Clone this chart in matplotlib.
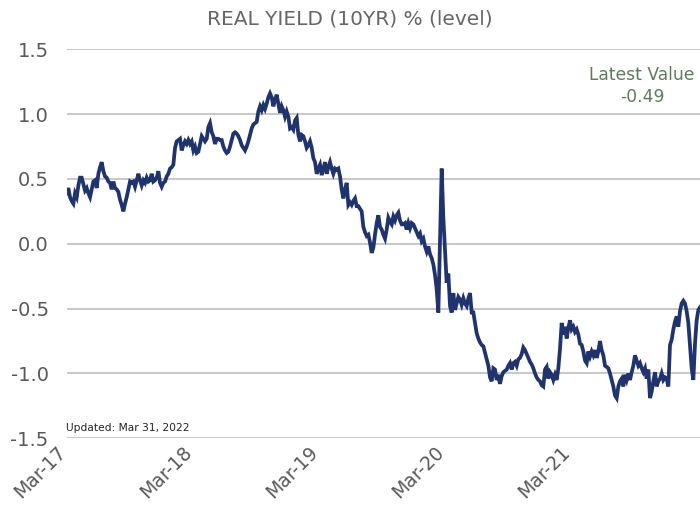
import numpy as np
import pandas as pd
import matplotlib
matplotlib.use("Agg")
import matplotlib.pyplot as plt

plt.rcParams["axes.unicode_minus"] = False
plt.rcParams["font.family"] = "DejaVu Sans"

# ---------------------------------------------------------------
#  Real yield 10yr (~ every 5 days)
# ---------------------------------------------------------------
ry_2017 = [0.39, 0.43, 0.36, 0.33, 0.31, 0.39, 0.36, 0.45, 0.51, 0.51,
           0.46, 0.41, 0.43, 0.39, 0.36, 0.42, 0.48, 0.49, 0.43, 0.54,
           0.59, 0.63, 0.56, 0.52, 0.51, 0.48, 0.47, 0.42, 0.48, 0.43,
           0.42, 0.40, 0.34, 0.30, 0.25, 0.31, 0.36, 0.42, 0.48, 0.47,
           0.48, 0.44, 0.49, 0.54, 0.49, 0.45, 0.49, 0.47, 0.51, 0.48,
           0.49, 0.54, 0.48, 0.49, 0.51, 0.56, 0.47, 0.44, 0.47, 0.48,
           0.52, 0.54, 0.58, 0.59, 0.61, 0.74, 0.79, 0.80, 0.81, 0.72,
           0.76, 0.79, 0.77, 0.80, 0.77, 0.79, 0.72, 0.75, 0.70, 0.71,
           0.77, 0.83, 0.81, 0.79, 0.81, 0.90, 0.93, 0.86, 0.83, 0.77,
           0.81, 0.81, 0.80, 0.80, 0.75, 0.72]
ry_2018 = [0.70, 0.71, 0.75, 0.80, 0.85, 0.86, 0.85, 0.83, 0.80, 0.76,
           0.74, 0.72, 0.75, 0.79, 0.84, 0.89, 0.92, 0.93, 0.94, 1.02,
           1.06, 1.03, 1.07, 1.04, 1.08, 1.13, 1.16, 1.13, 1.06, 1.11,
           1.15, 1.08, 1.01, 1.06, 1.03, 0.98, 1.02, 0.98, 0.89, 0.90,
           0.88, 0.95, 0.97, 0.84, 0.79, 0.84, 0.83, 0.79, 0.74, 0.76,
           0.79, 0.74, 0.66, 0.63, 0.54, 0.58, 0.61, 0.53, 0.58, 0.63,
           0.54, 0.59, 0.63, 0.58, 0.54, 0.58, 0.57, 0.58, 0.52, 0.42,
           0.35, 0.42, 0.47, 0.30, 0.32, 0.30, 0.33, 0.35, 0.29, 0.29,
           0.27, 0.25, 0.13, 0.09, 0.06, 0.07, 0.01, -0.07, -0.03, 0.07,
           0.16, 0.22]
ry_2019 = [0.13, 0.11, 0.07, 0.04, 0.11, 0.20, 0.17, 0.15, 0.21, 0.18,
           0.22, 0.24, 0.18, 0.15, 0.15, 0.16, 0.11, 0.16, 0.12, 0.16,
           0.15, 0.12, 0.09, 0.06, 0.08, 0.02, 0.04, -0.02, -0.06, -0.02,
           -0.08, -0.11, -0.16, -0.24, -0.35, -0.53, 0.03, 0.58, 0.20, -0.05,
           -0.30, -0.23, -0.48, -0.53, -0.38, -0.51, -0.46, -0.41, -0.43, -0.47,
           -0.42, -0.46, -0.48, -0.42, -0.38, -0.53, -0.53, -0.61, -0.69, -0.73,
           -0.76, -0.78, -0.79, -0.84, -0.89, -0.94, -1.03, -1.06, -0.96, -0.97,
           -1.05, -1.01, -1.08, -1.02, -0.99, -0.98, -0.97, -0.94, -0.92, -0.97,
           -0.92, -0.91, -0.94, -0.89, -0.88, -0.85, -0.80, -0.82, -0.85, -0.88,
           -0.91, -0.93, -0.96]
ry_2021 = [-1.00, -1.03, -1.05, -1.06, -1.09, -1.10, -0.97, -0.95, -1.04, -0.99,
           -1.01, -1.05, -1.01, -1.05, -0.96, -0.81, -0.61, -0.70, -0.64, -0.73,
           -0.65, -0.59, -0.66, -0.64, -0.68, -0.66, -0.70, -0.77, -0.78, -0.83,
           -0.90, -0.92, -0.83, -0.87, -0.83, -0.86, -0.82, -0.88, -0.83, -0.75,
           -0.82, -0.86, -0.94, -0.95, -0.96, -1.00, -1.05, -1.10, -1.17, -1.19,
           -1.10, -1.06, -1.04, -1.10, -1.01, -1.05, -1.00, -1.05, -0.99, -0.94,
           -0.86, -0.90, -0.94, -0.92, -0.96, -0.99, -0.96, -1.04, -0.97, -1.19,
           -1.14, -1.06, -0.99, -1.10, -1.06, -1.04, -1.00, -1.05, -1.03, -1.04,
           -1.10, -0.78, -0.74, -0.66, -0.60, -0.56, -0.64, -0.52, -0.46, -0.44,
           -0.46, -0.52, -0.61, -0.79, -0.96, -1.05, -0.77, -0.59, -0.51, -0.49]

values = np.array(ry_2017 + ry_2018 + ry_2019 + ry_2021)
dates = pd.date_range("2017-03-21", "2022-03-31", periods=len(values))

tick_dates = pd.to_datetime(["2017-03-31", "2018-03-31", "2019-03-31",
                             "2020-03-31", "2021-03-31"])
tick_labels = ["Mar-17", "Mar-18", "Mar-19", "Mar-20", "Mar-21"]
y_ticks = [-1.5, -1.0, -0.5, 0.0, 0.5, 1.0, 1.5]

latest = values[-1]

# ---------------------------------------------------------------
#  Figure
# ---------------------------------------------------------------
fig = plt.figure(figsize=(7.0, 5.14), dpi=100)
ax = fig.add_axes([66.7 / 700, (514 - 438.3) / 514, 633.3 / 700, 389.0 / 514])

ax.plot(dates, values, color="#1f336e", linewidth=2.7, solid_joinstyle="miter")

ax.set_xlim(dates[0], dates[-1])
ax.set_ylim(-1.5, 1.5)
ax.set_yticks(y_ticks)
ax.set_yticklabels([f"{v:.1f}" for v in y_ticks])
ax.set_xticks(tick_dates)
ax.set_xticklabels(tick_labels, rotation=45, ha="right", va="top")

ax.yaxis.grid(True, color="#c4c4c4", linewidth=1.3)
ax.set_axisbelow(True)
for s in ax.spines.values():
    s.set_visible(False)
ax.tick_params(axis="both", length=0, colors="#595959")
ax.tick_params(axis="y", pad=13, labelsize=14)
ax.tick_params(axis="x", pad=3, labelsize=13.5)

fig.text(0.5, 0.964, "REAL YIELD (10YR) % (level)", ha="center", va="center",
         fontsize=14.5, color="#666666")

fig.text(642 / 700, (514 - 75) / 514, "Latest Value", ha="center",
         va="center", fontsize=12.3, color="#5f7a5f")
fig.text(642 / 700, (514 - 97) / 514, f"{latest:.2f}", ha="center",
         va="center", fontsize=12.3, color="#5f7a5f")
fig.text(66 / 700, (514 - 428) / 514, "Updated: Mar 31, 2022", ha="left",
         va="center", fontsize=7.7, color="#222222")

fig.savefig("out.png", dpi=100)
